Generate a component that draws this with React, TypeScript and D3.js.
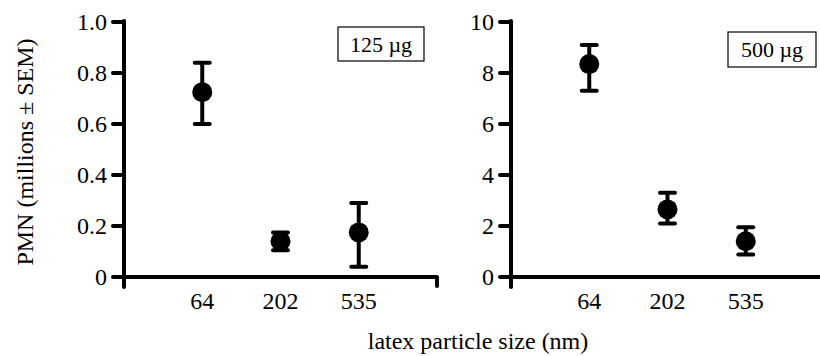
import React from "react";
import * as d3 from "d3";

const categories = ["64", "202", "535"];
const leftMean = [0.725, 0.14, 0.175];
const leftLow = [0.6, 0.105, 0.04];
const leftHigh = [0.84, 0.175, 0.29];
const leftTicks = [0, 0.2, 0.4, 0.6, 0.8, 1.0];
const leftTickLabels = ["0", "0.2", "0.4", "0.6", "0.8", "1.0"];

const rightMean = [8.35, 2.65, 1.4];
const rightLow = [7.3, 2.1, 0.88];
const rightHigh = [9.1, 3.3, 1.95];
const rightTicks = [0, 2, 4, 6, 8, 10];
const rightTickLabels = ["0", "2", "4", "6", "8", "10"];

const panelLabels = ["125 µg", "500 µg"];
const yTitle = "PMN (millions ± SEM)";
const xTitle = "latex particle size (nm)";

const FONT = "Liberation Serif, Times New Roman, serif";
const textStyle = { fontFamily: FONT };

type PanelProps = {
  x0: number;
  yMax: number;
  mean: number[];
  low: number[];
  high: number[];
  ticks: number[];
  tickLabels: string[];
  label: string;
  box: { x: number; y: number; w: number; h: number };
};

function Panel({ x0, yMax, mean, low, high, ticks, tickLabels, label, box }: PanelProps) {
  const yTop = 22;
  const yBot = 277;
  const width = 313;
  const x = d3.scaleLinear().domain([0, categories.length + 1]).range([x0, x0 + width]);
  const y = d3.scaleLinear().domain([0, yMax]).range([yBot, yTop]);
  const sw = 4;
  const capW = 15;
  return (
    <g>
      <line x1={x0} x2={x0} y1={y(yMax) - 1} y2={yBot + 10} stroke="#000" strokeWidth={sw} strokeLinecap="round" />
      <line x1={x0} x2={x0 + width} y1={yBot} y2={yBot} stroke="#000" strokeWidth={sw} />
      <line x1={x0 + width} x2={x0 + width} y1={yBot} y2={yBot + 9} stroke="#000" strokeWidth={sw} strokeLinecap="round" />
      {ticks.map((t, i) => (
        <g key={i}>
          <line x1={x0 - 11} x2={x0} y1={y(t)} y2={y(t)} stroke="#000" strokeWidth={sw} strokeLinecap="round" />
          <text x={x0 - 17} y={y(t)} dy="0.33em" textAnchor="end" fontSize={24} style={textStyle}>
            {tickLabels[i]}
          </text>
        </g>
      ))}
      {categories.map((c, i) => (
        <text key={c} x={x(i + 1)} y={yBot + 32} textAnchor="middle" fontSize={24} style={textStyle}>
          {c}
        </text>
      ))}
      {mean.map((m, i) => {
        const cx = x(i + 1);
        return (
          <g key={i}>
            <line x1={cx} x2={cx} y1={y(low[i])} y2={y(high[i])} stroke="#000" strokeWidth={sw} />
            <line x1={cx - capW / 2} x2={cx + capW / 2} y1={y(high[i])} y2={y(high[i])} stroke="#000" strokeWidth={sw} strokeLinecap="round" />
            <line x1={cx - capW / 2} x2={cx + capW / 2} y1={y(low[i])} y2={y(low[i])} stroke="#000" strokeWidth={sw} strokeLinecap="round" />
            <circle cx={cx} cy={y(m)} r={10} fill="#000" />
          </g>
        );
      })}
      <rect x={box.x} y={box.y} width={box.w} height={box.h} fill="#fff" stroke="#000" strokeWidth={1.2} />
      <text x={box.x + box.w / 2} y={box.y + box.h / 2} dy="0.35em" textAnchor="middle" fontSize={22} style={textStyle}>
        {label}
      </text>
    </g>
  );
}

export default function App() {
  return (
    <svg
      width={820}
      height={356}
      style={{ position: "absolute", left: 0, top: 0, background: "#fff" }}
    >
      <Panel
        x0={124}
        yMax={1}
        mean={leftMean}
        low={leftLow}
        high={leftHigh}
        ticks={leftTicks}
        tickLabels={leftTickLabels}
        label={panelLabels[0]}
        box={{ x: 338, y: 27, w: 86, h: 34 }}
      />
      <Panel
        x0={511}
        yMax={10}
        mean={rightMean}
        low={rightLow}
        high={rightHigh}
        ticks={rightTicks}
        tickLabels={rightTickLabels}
        label={panelLabels[1]}
        box={{ x: 728, y: 32, w: 88, h: 35 }}
      />
      <text
        transform="translate(33,152) rotate(-90)"
        textAnchor="middle"
        fontSize={24}
        style={textStyle}
      >
        {yTitle}
      </text>
      <text x={478} y={349} textAnchor="middle" fontSize={24} style={textStyle}>
        {xTitle}
      </text>
    </svg>
  );
}
